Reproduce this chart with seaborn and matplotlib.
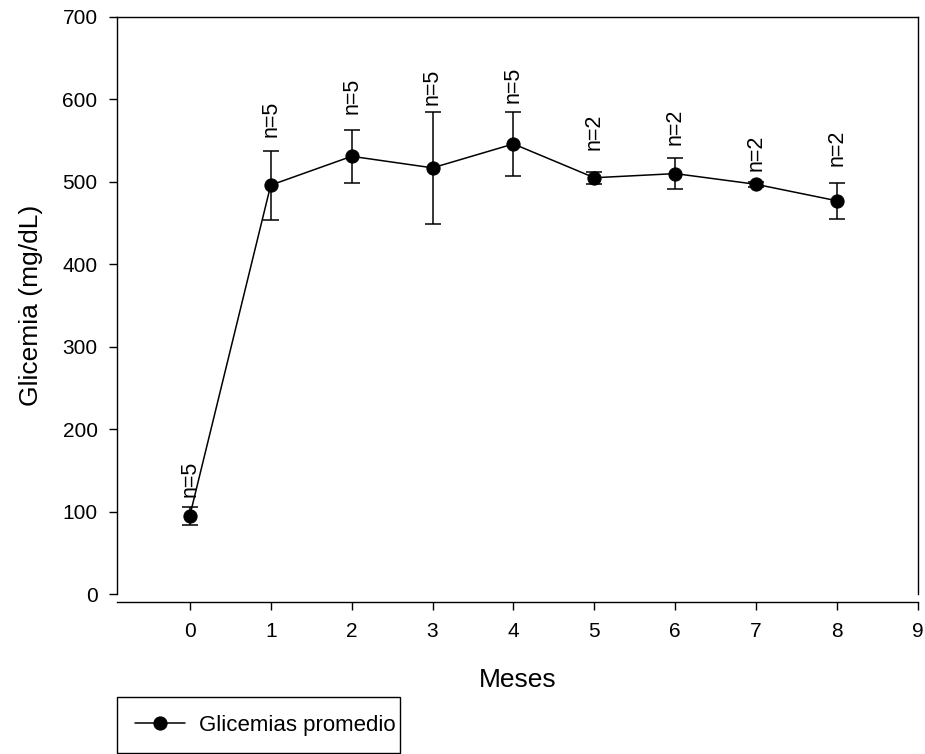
import matplotlib
matplotlib.use("Agg")
import matplotlib.pyplot as plt
from matplotlib.patches import Rectangle
import seaborn as sns
import pandas as pd

meses = [0, 1, 2, 3, 4, 5, 6, 7, 8]
glicemia = [95, 496, 531, 517, 546, 505, 510, 497, 477]
error = [11, 42, 32, 68, 39, 7, 19, 3, 22]
n_labels = ["n=5", "n=5", "n=5", "n=5", "n=5", "n=2", "n=2", "n=2", "n=2"]
label_y = [118, 555, 582, 593, 596, 539, 545, 513, 519]

sns.set_style("ticks")
plt.rcParams["font.family"] = ["Liberation Sans", "DejaVu Sans"]
plt.rcParams.update({"text.color": "black", "axes.labelcolor": "black",
                     "xtick.color": "black", "ytick.color": "black",
                     "axes.edgecolor": "black"})

df = pd.DataFrame({"Meses": meses, "Glicemia": glicemia})

W, H = 925, 754
fig = plt.figure(figsize=(W / 100, H / 100), dpi=100)
ax_left, ax_right, ax_top, ax_bottom = 117, 918, 17, 594
ax = fig.add_axes([ax_left / W, 1 - ax_bottom / H,
                   (ax_right - ax_left) / W, (ax_bottom - ax_top) / H])

ax.errorbar(meses, glicemia, yerr=error, fmt="none", ecolor="black",
            elinewidth=1.1, capsize=6, capthick=1.1, zorder=2)
sns.lineplot(data=df, x="Meses", y="Glicemia", ax=ax, color="black",
             marker="o", markersize=9.5, linewidth=1.1,
             markeredgecolor="black", label="Glicemias promedio", zorder=3)

for xi, yi, t in zip(meses, label_y, n_labels):
    ax.text(xi, yi, t, rotation=90, ha="center", va="bottom", fontsize=15.5,
            color="black")

ax.set_xlim(-0.9, 9)
ax.set_ylim(0, 700)
ax.set_xticks(range(0, 10))
ax.set_yticks(range(0, 701, 100))
ax.tick_params(axis="both", labelsize=15, length=6, width=1,
               direction="out", pad=8, colors="black")
ax.set_xlabel("Meses", fontsize=19, color="black")
ax.set_ylabel("Glicemia (mg/dL)", fontsize=19, color="black")
ax.xaxis.set_label_coords(0.5, -(668 - ax_bottom) / (ax_bottom - ax_top))
ax.yaxis.set_label_coords(-(ax_left - 43) / (ax_right - ax_left), 0.5)

for s in ax.spines.values():
    s.set_visible(True)
    s.set_linewidth(1)
    s.set_color("black")
ax.spines["bottom"].set_position(("outward", 6))

handles, labels = ax.get_legend_handles_labels()
ax.get_legend().remove()
leg = fig.legend(handles, labels, loc="upper left",
                 bbox_to_anchor=(117 / W, 1 - 697 / H), borderaxespad=0,
                 fontsize=16, frameon=False, borderpad=0.8,
                 handlelength=2.25, handletextpad=0.63, labelcolor="black")

# legend frame (reference has a tight right margin)
fig.patches.append(Rectangle((117 / W, 1 - 753 / H), (400 - 117) / W,
                             (753 - 697) / H, transform=fig.transFigure,
                             fill=False, edgecolor="black", linewidth=1))

fig.savefig("out.png", dpi=100)
